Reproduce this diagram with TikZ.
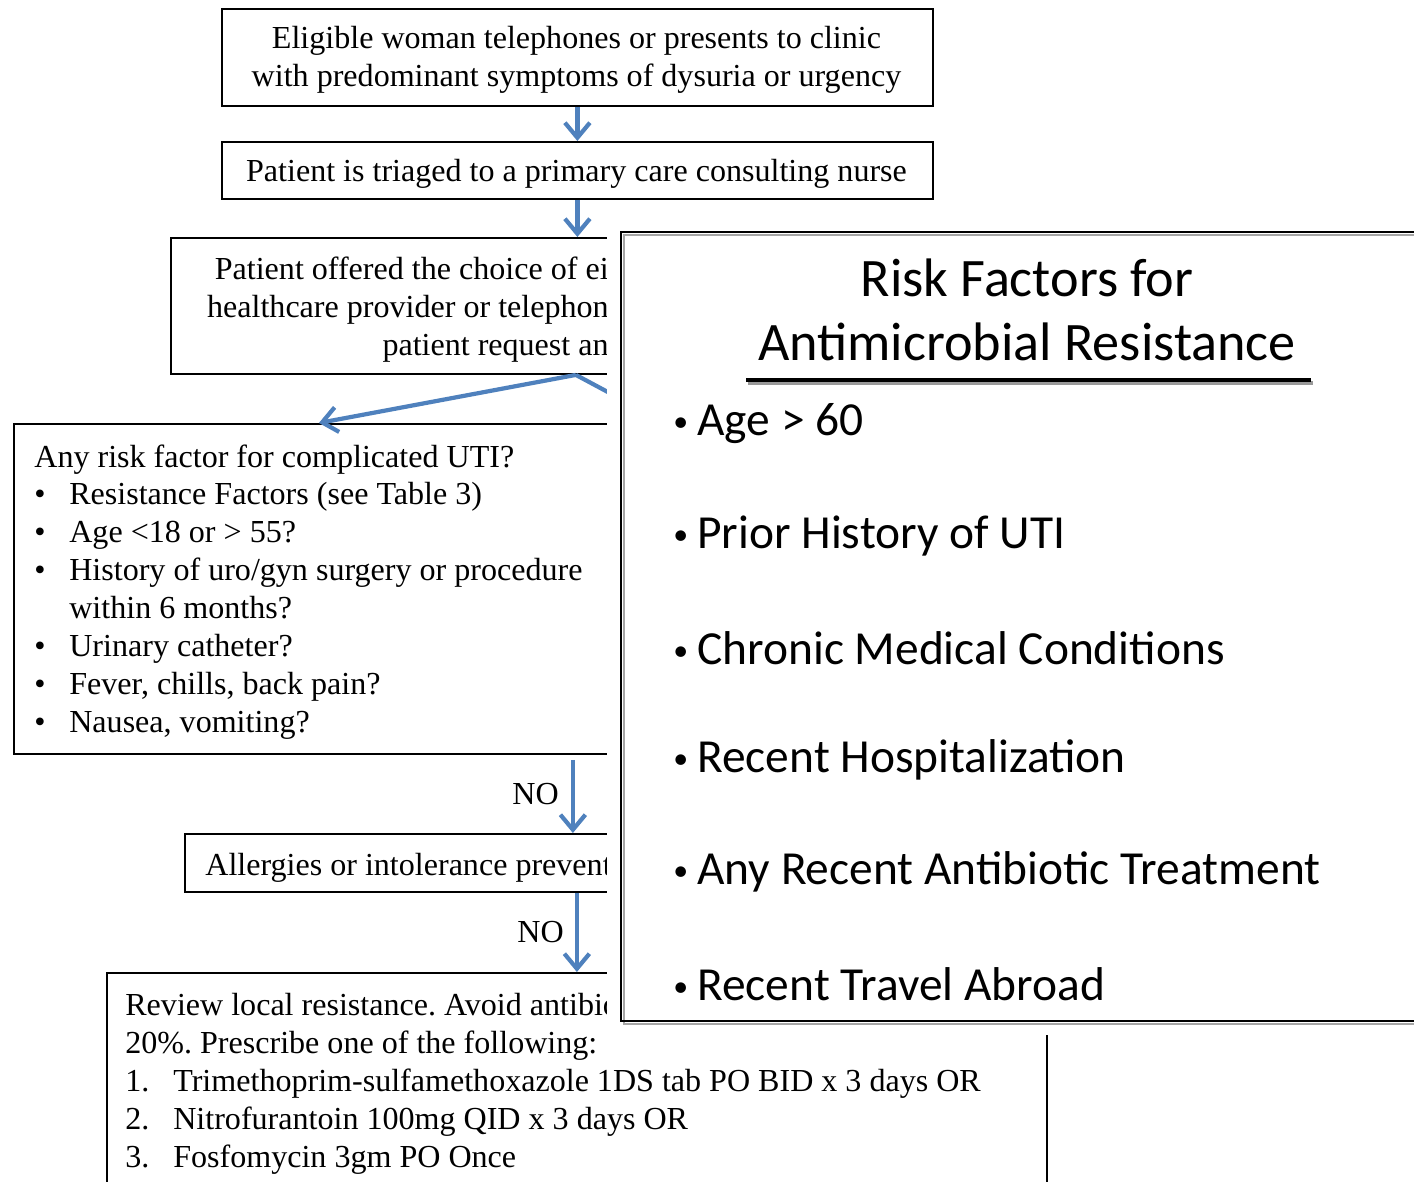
\documentclass[tikz,border=0pt]{standalone}
\usepackage{fontspec}
\setmainfont{Liberation Serif}
\newfontfamily\riskfont{Carlito}
\usetikzlibrary{arrows.meta,positioning}
\definecolor{flowblue}{RGB}{79,129,189}
\newcommand{\blt}{\makebox[0.7cm][l]{\textbullet}}
\newcommand{\numitem}[1]{\makebox[0.96cm][l]{#1}}
\newcommand{\riskblt}{\makebox[0.48cm][l]{\raisebox{0.09em}{\fontsize{17}{17}\selectfont\textbullet}}}
\frenchspacing

\begin{document}
\begin{tikzpicture}[x=0.02cm,y=-0.02cm,
  flowbox/.style={draw,line width=1.1pt,inner sep=0pt,anchor=north west},
  flowtext/.style={inner sep=0pt,text=black,font=\fontsize{18.25}{21.6}\selectfont},
  flowarrow/.style={flowblue,line width=2.4pt,-{Straight Barb[length=0.3cm,width=0.5cm]}},
  risktext/.style={inner sep=0pt,font=\riskfont\fontsize{27}{32}\selectfont,anchor=west}]
\useasboundingbox (0,0) rectangle (1414,1182);
% flow chart boxes
\node[flowbox,minimum width=14.22cm,minimum height=1.94cm] (intake) at (221,8) {};
\node[flowtext,align=center] (intaketxt) at (576.5,60)
  {Eligible woman telephones or presents to clinic\\with predominant symptoms of dysuria or urgency};
\node[flowbox,minimum width=14.22cm,minimum height=1.14cm] (triage) at (221,141) {};
\node[flowtext] (triagetxt) at (576.5,174) {Patient is triaged to a primary care consulting nurse};
\node[flowbox,minimum width=16.2cm,minimum height=2.72cm] (offer) at (170,237) {};
\node[flowtext,align=right,anchor=east] (offertxt) at (609,310)
  {Patient offered the choice of ei\\healthcare provider or telephon\\patient request an};
\node[flowbox,minimum width=12.2cm,minimum height=6.6cm] (riskq) at (13,423) {};
\node[flowtext,align=left,anchor=west] (riskqtxt) at (34,592)
  {Any risk factor for complicated UTI?\\
   \blt Resistance Factors (see Table 3)\\
   \blt Age <18 or > 55?\\
   \blt History of uro/gyn surgery or procedure\\
   \hspace*{0.7cm}within 6 months?\\
   \blt Urinary catheter?\\
   \blt Fever, chills, back pain?\\
   \blt Nausea, vomiting?};
\node[flowbox,minimum width=15.52cm,minimum height=1.16cm] (allergy) at (184,833) {};
\node[flowtext,anchor=west] (allergytxt) at (205,868) {Allergies or intolerance prevent};
\node[flowbox,minimum width=18.8cm,minimum height=4.36cm] (review) at (106,972) {};
\node[flowtext,align=left,anchor=west] (reviewtxt) at (125,1084)
  {Review local resistance. Avoid antibio\\
   20\%. Prescribe one of the following:\\
   \numitem{1.}Trimethoprim-sulfamethoxazole 1DS tab PO BID x 3 days OR\\
   \numitem{2.}Nitrofurantoin 100mg QID x 3 days OR\\
   \numitem{3.}Fosfomycin 3gm PO Once};
% connectors
\draw[flowarrow] (intake.south) -- (triage.north);
\draw[flowarrow] (triage.south) -- (triage.south |- offer.north);
\draw[flowarrow] (offer.south) -- (riskq.north);
\coordinate (homecare) at (800,495);
\draw[flowblue,line width=2.4pt] (offer.south) -- (homecare);
\draw[flowarrow,shorten <=0.1cm] (allergy.north |- riskq.south) -- node[flowtext,left=0.24cm] (no1) {NO} (allergy.north);
\draw[flowarrow] (review.north |- allergy.south) -- node[flowtext,left=0.22cm] (no2) {NO} (review.north);
% risk factor table on top
\fill[white] (607,215) rectangle (1414,1035);
\draw[black!35,line width=1.6pt] (1414,235) -- (624,235) -- (624,1024) -- (1414,1024);
\draw[line width=1.6pt] (1414,232) -- (621,232) -- (621,1021) -- (1414,1021);
\node[inner sep=0pt,align=center,font=\riskfont\fontsize{30.85}{36.4}\selectfont] (risktitle) at (1027,310)
  {Risk Factors for\\Antimicrobial Resistance};
\draw[black!40,line width=2pt] (748,383) -- (1313,383);
\draw[line width=2pt] (746,380) -- (1311,380);
\foreach \txt [count=\i from 0] in {Age > 60,Prior History of UTI,Chronic Medical Conditions,
  Recent Hospitalization,Any Recent Antibiotic Treatment,Recent Travel Abroad}
  \node[risktext] (factor\i) at (673,424+112*\i) {\riskblt\txt};
\end{tikzpicture}
\end{document}
